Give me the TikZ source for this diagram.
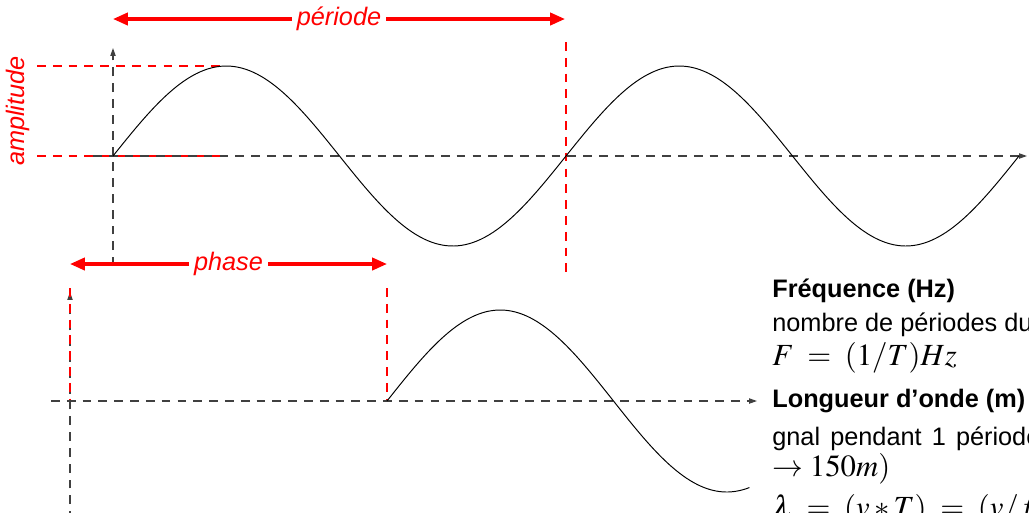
\documentclass[tikz,border=0pt]{standalone}
\usepackage{mathptmx}
\usepackage[no-math]{fontspec}
\setmainfont{Liberation Sans}
\usetikzlibrary{arrows.meta}
\begin{document}
\begin{tikzpicture}[x=0.02cm,y=-0.02cm,
  axis/.style={draw=black!75, line width=0.65pt, dash pattern=on 5pt off 4pt},
  reddash/.style={draw=red, line width=0.6pt, dash pattern=on 5pt off 4pt},
  redarrow/.style={draw=red, line width=1.8pt, {Triangle[length=8.5pt,width=7pt]}-{Triangle[length=8.5pt,width=7pt]}},
  axtip/.style={-{Triangle[length=4.5pt,width=3pt]}},
  wave/.style={draw=black, line width=0.55pt},
  redlbl/.style={text=red, font=\fontsize{14.4}{17}\selectfont\itshape, fill=white, inner sep=3pt},
  info/.style={anchor=base west, inner sep=0pt, font=\fontsize{14.4}{17}\selectfont},
  infob/.style={info, font=\fontsize{14.4}{17}\selectfont\bfseries},
  mathl/.style={info, font=\fontsize{17.5}{20}\selectfont},
]
\useasboundingbox (0,0) rectangle (1029,512);

% ---------- top signal ----------
\coordinate (ax1s) at (93,156);
\coordinate (ax1e) at (1027,156);
\coordinate (vy1s) at (113,266);
\coordinate (vy1e) at (113,48);
\coordinate (amp1a) at (37,66);
\coordinate (amp1b) at (225,66);
\coordinate (amp0a) at (37,156);
\coordinate (amp0b) at (220,156);
\coordinate (perA) at (566,42);
\coordinate (perB) at (566,275);
\coordinate (parL) at (113,19);
\coordinate (parR) at (565,19);

\draw[reddash] (amp1a) -- (amp1b);
\draw[reddash] (amp0a) -- (amp0b);
\draw[axis, axtip] (ax1s) -- (ax1e);
\draw[axis, axtip] (vy1s) -- (vy1e);
\draw[reddash] (perA) -- (perB);
\draw[wave] plot[domain=0:906, samples=240, smooth] ({113+\x},{156-90*sin(\x/453*360)});

\draw[redarrow] (parL) -- node[redlbl] (per) {période} (parR);
\node[text=red, font=\fontsize{14.4}{17}\selectfont\itshape, rotate=90] (amp) at (18,111) {amplitude};

% ---------- bottom signal ----------
\coordinate (phL) at (70,264);
\coordinate (phR) at (387,264);
\coordinate (ax2s) at (51,401);
\coordinate (ax2e) at (757,401);
\coordinate (vy2s) at (70,520);
\coordinate (vy2e) at (70,292);
\coordinate (r2a) at (70,288);
\coordinate (r2b) at (70,401);
\coordinate (r3a) at (387,288);
\coordinate (r3b) at (387,401);

\draw[axis, axtip] (vy2s) -- (vy2e);
\draw[reddash] (r2a) -- (r2b);
\draw[reddash] (r3a) -- (r3b);
\draw[axis, axtip] (ax2s) -- (ax2e);
\draw[wave] plot[domain=0:362.4, samples=120, smooth] ({387+\x},{401-91*sin(\x/453*360)});

\draw[redarrow] (phL) -- node[redlbl] (ph) {phase} (phR);

% ---------- text ----------
\node[infob] (freq) at (772,297) {Fréquence (Hz)};
\node[info] (nb) at (772,331) {nombre de périodes du};
\node[mathl] (fml) at (772,365) {$F\;=\;(1/T)Hz$};
\node[infob] (lng) at (772,407) {Longueur d’onde (m)};
\node[info] (gn) at (772,445) {\spaceskip=0.4em gnal pendant 1 période};
\node[mathl] (m150) at (772,476) {$\rightarrow 150m)$};
\node[mathl] (lam) at (772,517) {$\lambda\;=\;(v\ast T)\;=\;(v/f)$};
\end{tikzpicture}
\end{document}
